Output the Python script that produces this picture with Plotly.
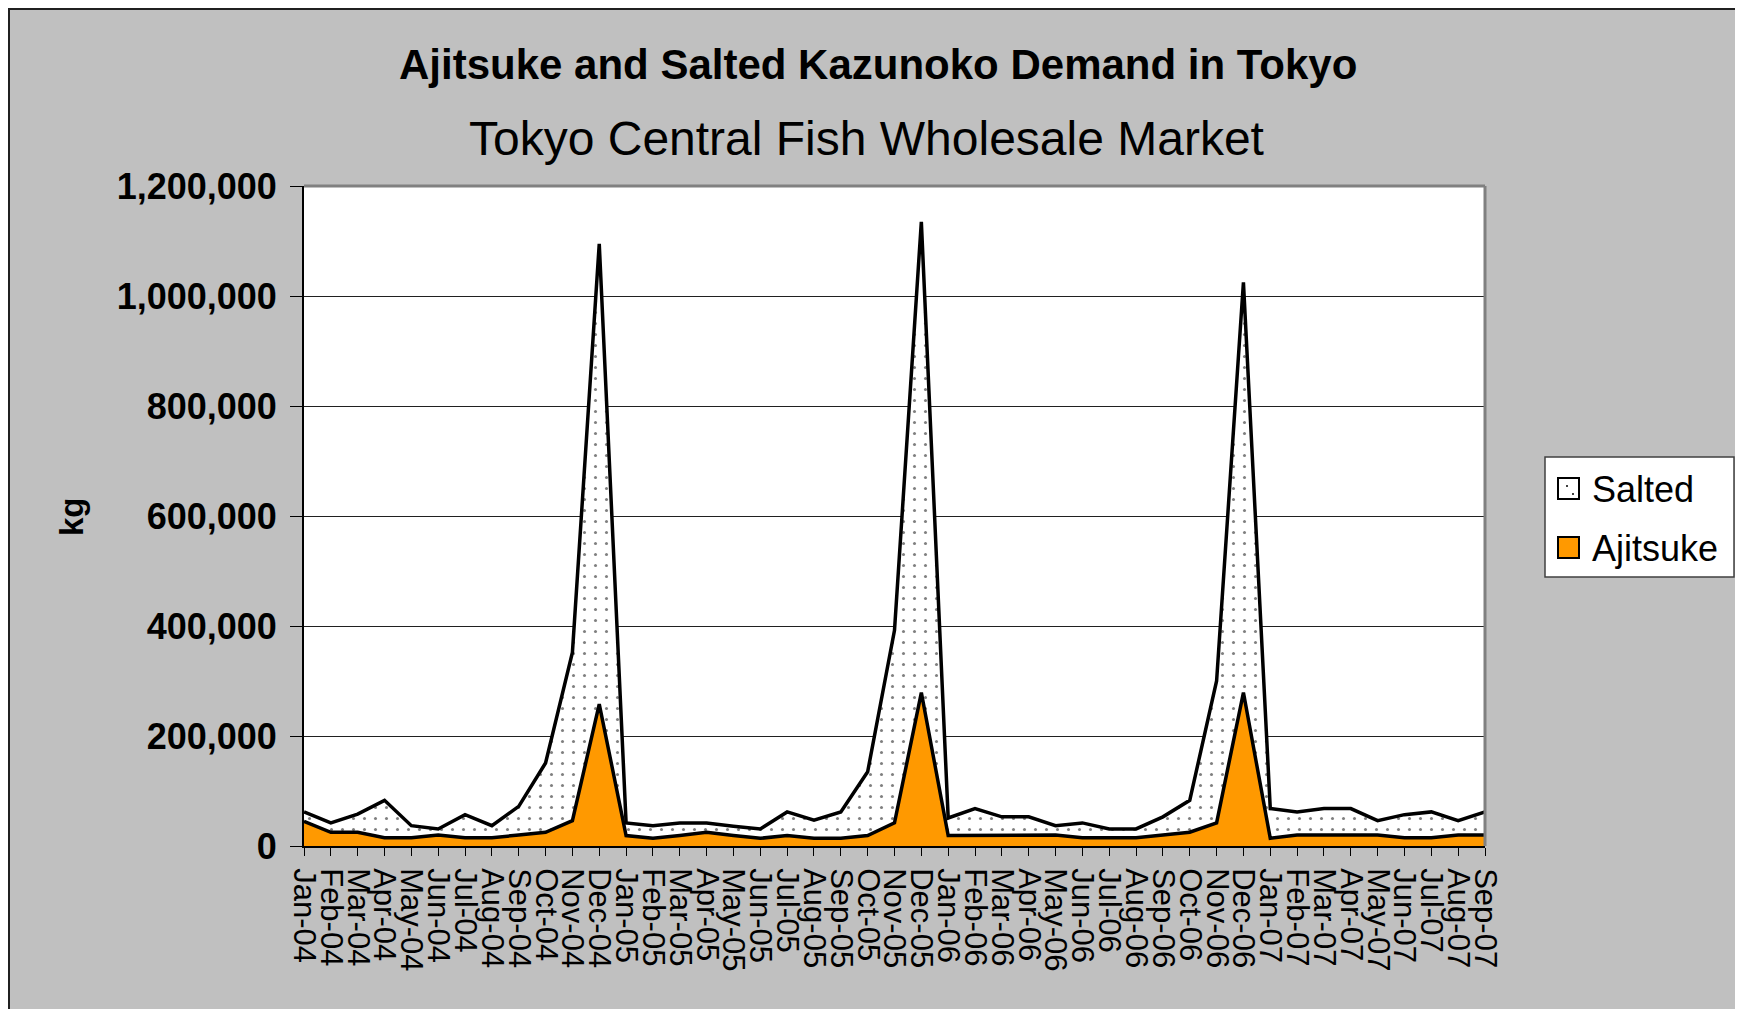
import plotly.graph_objects as go

# ---------------- data ----------------
months = [
    "Jan-04", "Feb-04", "Mar-04", "Apr-04", "May-04", "Jun-04", "Jul-04", "Aug-04", "Sep-04", "Oct-04", "Nov-04", "Dec-04",
    "Jan-05", "Feb-05", "Mar-05", "Apr-05", "May-05", "Jun-05", "Jul-05", "Aug-05", "Sep-05", "Oct-05", "Nov-05", "Dec-05",
    "Jan-06", "Feb-06", "Mar-06", "Apr-06", "May-06", "Jun-06", "Jul-06", "Aug-06", "Sep-06", "Oct-06", "Nov-06", "Dec-06",
    "Jan-07", "Feb-07", "Mar-07", "Apr-07", "May-07", "Jun-07", "Jul-07", "Aug-07", "Sep-07",
]
ajitsuke = [
    45000, 25000, 25000, 15000, 15000, 20000, 15000, 15000, 20000, 25000, 46000, 258000,
    19000, 14000, 19000, 25000, 19000, 14000, 19000, 14000, 14000, 19000, 42000, 279000,
    19000, 19000, 20000, 20000, 20000, 15000, 15000, 15000, 20000, 25000, 42000, 279000,
    14000, 20000, 20000, 20000, 20000, 15000, 15000, 20000, 20000,
]
salted = [
    17000, 17000, 33000, 68000, 22000, 11000, 42000, 22000, 52000, 126000, 306000, 837000,
    23000, 23000, 23000, 17000, 17000, 17000, 43000, 33000, 48000, 116000, 350000, 856000,
    32000, 49000, 33000, 33000, 17000, 27000, 16000, 16000, 33000, 58000, 258000, 746000,
    54000, 42000, 48000, 48000, 26000, 42000, 47000, 26000, 42000,
]
y_ticks = [0, 200000, 400000, 600000, 800000, 1000000, 1200000]

# ---------------- geometry (page pixels; the page has an 8px body margin) ----------------
W, H = 1743, 1009
OFF = 8
L, R, T, B = 304 - OFF, 1485 - OFF, 186 - OFF, 846 - OFF   # plot area in figure pixels


def px(x):  # page x -> paper
    return (x - OFF - L) / (R - L)


def py(y):  # page y -> paper
    return (B - (y - OFF)) / (B - T)


FONT = "Liberation Sans, Arial, sans-serif"
ORANGE = "#FF9900"

fig = go.Figure()
fig.add_trace(go.Scatter(
    x=months, y=ajitsuke, name="Ajitsuke", stackgroup="one", mode="lines",
    line=dict(color="black", width=3.5), fillcolor=ORANGE, showlegend=False,
))
fig.add_trace(go.Scatter(
    x=months, y=salted, name="Salted", stackgroup="one", mode="lines",
    line=dict(color="black", width=3.5), fillcolor="white",
    fillpattern=dict(shape=".", fgcolor="black", bgcolor="white", size=11, solidity=0.06),
    showlegend=False,
))

shapes = []
# chart-area border (left & top edges of the figure)
shapes.append(dict(type="line", xref="paper", yref="paper", x0=px(OFF + 1), x1=px(OFF + 1), y0=py(OFF), y1=py(H + 20),
                   line=dict(color="#202020", width=2)))
shapes.append(dict(type="line", xref="paper", yref="paper", x0=px(OFF), x1=px(W + 20), y0=py(OFF + 1), y1=py(OFF + 1),
                   line=dict(color="#202020", width=2)))
# plot area border (top & right)
shapes.append(dict(type="line", xref="paper", yref="paper", x0=0, x1=1, y0=1, y1=1,
                   line=dict(color="#808080", width=3)))
shapes.append(dict(type="line", xref="paper", yref="paper", x0=1, x1=1, y0=0, y1=1,
                   line=dict(color="#808080", width=3)))
# legend box
shapes.append(dict(type="rect", xref="paper", yref="paper", x0=px(1545), x1=px(1734), y0=py(577), y1=py(457),
                   fillcolor="white", line=dict(color="#404040", width=1.5)))
shapes.append(dict(type="rect", xref="paper", yref="paper", x0=px(1558), x1=px(1579), y0=py(499), y1=py(478),
                   fillcolor="white", line=dict(color="black", width=2)))
for (cx, cy) in [(1567, 486), (1573, 494)]:
    shapes.append(dict(type="circle", xref="paper", yref="paper", x0=px(cx - 1), x1=px(cx + 1), y0=py(cy + 1),
                       y1=py(cy - 1), fillcolor="black", line=dict(width=0)))
shapes.append(dict(type="rect", xref="paper", yref="paper", x0=px(1558), x1=px(1579), y0=py(558), y1=py(537),
                   fillcolor=ORANGE, line=dict(color="black", width=2)))

annotations = [
    dict(text="<b>Ajitsuke and Salted Kazunoko Demand in Tokyo</b>", xref="paper", yref="paper",
         x=px(878), y=py(64), xanchor="center", yanchor="middle", showarrow=False,
         font=dict(family=FONT, size=42, color="black")),
    dict(text="Tokyo Central Fish Wholesale Market", xref="paper", yref="paper",
         x=px(866), y=py(138), xanchor="center", yanchor="middle", showarrow=False,
         font=dict(family=FONT, size=48, color="black")),
    dict(text="<b>kg</b>", xref="paper", yref="paper", x=px(71), y=py(516), textangle=-90,
         xanchor="center", yanchor="middle", showarrow=False,
         font=dict(family=FONT, size=33, color="black")),
    dict(text="Salted", xref="paper", yref="paper", x=px(1590), y=py(489), xanchor="left", yanchor="middle",
         showarrow=False, font=dict(family=FONT, size=36, color="black")),
    dict(text="Ajitsuke", xref="paper", yref="paper", x=px(1590), y=py(548), xanchor="left", yanchor="middle",
         showarrow=False, font=dict(family=FONT, size=36, color="black")),
]

fig.update_layout(
    width=W, height=H,
    margin=dict(l=L, r=W - R, t=T, b=H - B, autoexpand=False),
    paper_bgcolor="#C0C0C0", plot_bgcolor="white",
    showlegend=False,
    font=dict(family=FONT, color="black"),
    shapes=shapes, annotations=annotations,
    xaxis=dict(
        type="category", range=[0, len(months) - 1], tickmode="array", tickvals=months, ticktext=months,
        tickangle=90, ticks="outside", ticklen=8, tickcolor="black", tickwidth=1,
        showline=True, linecolor="black", linewidth=2, showgrid=False,
        tickfont=dict(family=FONT, size=31, color="black"), ticklabelstandoff=6,
    ),
    yaxis=dict(
        range=[0, 1200000], tickmode="array", tickvals=y_ticks, tickformat=",d",
        ticks="outside", ticklen=12, tickcolor="black", tickwidth=1,
        showline=True, linecolor="black", linewidth=2,
        showgrid=True, gridcolor="#202020", gridwidth=1, zeroline=False,
        tickfont=dict(family=FONT, size=36, color="black", weight="bold"), ticklabelstandoff=6,
    ),
)

fig.write_html(
    "out.html",
    post_script="document.documentElement.style.overflow='hidden';document.body.style.overflow='hidden';",
)
